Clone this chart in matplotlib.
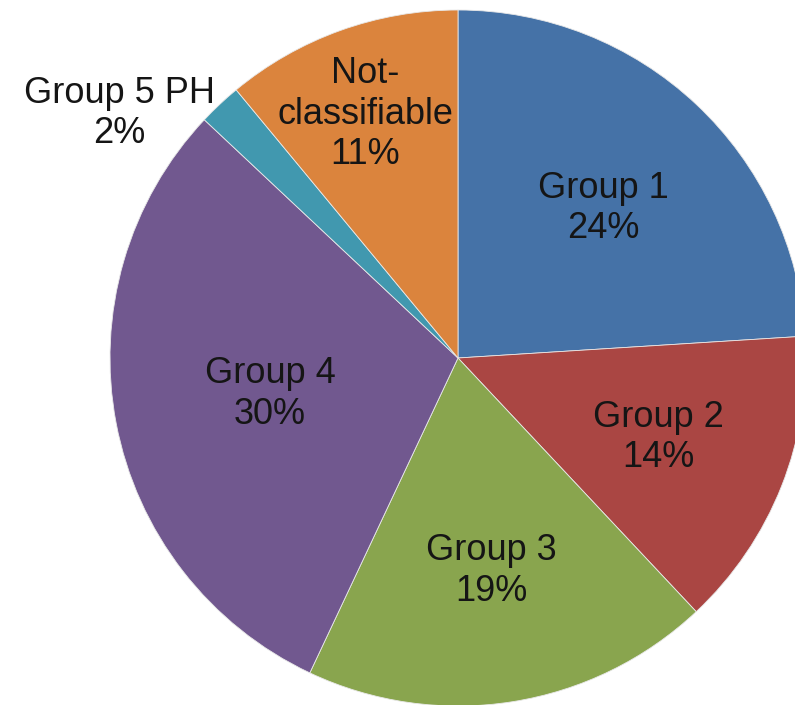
import numpy as np
import matplotlib
matplotlib.use("Agg")
import matplotlib.pyplot as plt

# PH classification shares (%)
groups = ["Group 1", "Group 2", "Group 3", "Group 4", "Group 5 PH", "Not-\nclassifiable"]
shares = [24, 14, 19, 30, 2, 11]
colors = ["#4572A7", "#AA4643", "#89A54E", "#71588F", "#4198AF", "#DB843D"]

# label placement: fraction of radius along the wedge mid-angle, plus angle nudge
label_dist = [0.60, 0.62, 0.62, 0.55, 1.20, 0.75]
label_shift = [-1, 0, 0, 0, 11, 1]

plt.rcParams["font.family"] = ["Liberation Sans", "DejaVu Sans"]

W, H = 795, 705
fig = plt.figure(figsize=(W / 100, H / 100), dpi=100)
ax = fig.add_axes([0, 0, 1, 1])

cx, cy, R = 458, H - 358, 348
wedges, _ = ax.pie(shares, colors=colors, startangle=90, counterclock=False,
                   center=(cx, cy), radius=R, frame=True,
                   wedgeprops=dict(edgecolor="#e8e8e8", linewidth=0.6))
ax.set_xlim(0, W)
ax.set_ylim(0, H)
ax.set_aspect("equal")
ax.axis("off")

for w, name, val, d, s in zip(wedges, groups, shares, label_dist, label_shift):
    ang = np.deg2rad((w.theta1 + w.theta2) / 2 + s)
    x = cx + d * R * np.cos(ang)
    y = cy + d * R * np.sin(ang)
    ax.text(x, y, f"{name}\n{val}%", ha="center", va="center",
            fontsize=26, color="#151515", linespacing=1.2)

fig.savefig("out.png", dpi=100)
